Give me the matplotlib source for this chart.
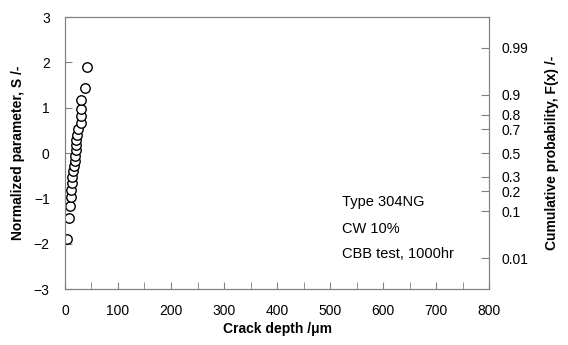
import matplotlib.pyplot as plt
from statistics import NormalDist

plt.rcParams['font.family'] = ['Liberation Sans', 'DejaVu Sans']

# Crack depth (um) and normalized parameter S
depth = [4.4, 8.5, 9.5, 10.5, 11.5, 12.5, 14.0, 15.5, 17.5, 18.5, 19.5,
         20.0, 20.5, 21.0, 22.0, 24.5, 29.6, 30.8, 30.8, 30.8, 38.0, 42.0]
s_value = [-1.90, -1.43, -1.17, -0.97, -0.81, -0.66, -0.53, -0.40, -0.285, -0.17, -0.056,
           0.056, 0.17, 0.285, 0.40, 0.53, 0.66, 0.81, 0.97, 1.17, 1.43, 1.90]

prob_ticks = [0.01, 0.1, 0.2, 0.3, 0.5, 0.7, 0.8, 0.9, 0.99]
prob_labels = ['0.01', '0.1', '0.2', '0.3', '0.5', '0.7', '0.8', '0.9', '0.99']

spine_col = '#808080'

fig = plt.figure(figsize=(5.68, 3.45), dpi=100)
ax = fig.add_axes([0.1144, 0.1623, 0.7466, 0.7884])

ax.plot(depth, s_value, 'o', mfc='white', mec='black', mew=1.0, ms=6.8, ls='none')

ax.set_xlim(0, 800)
ax.set_ylim(-3, 3)
ax.set_xticks(range(0, 801, 100))
ax.set_xticks(range(50, 800, 100), minor=True)
ax.set_yticks(range(-3, 4))
ax.tick_params(axis='both', which='both', direction='in', colors=spine_col,
               labelcolor='black', labelsize=10)
ax.tick_params(axis='x', which='major', length=5, pad=11)
ax.tick_params(axis='x', which='minor', length=5)
ax.tick_params(axis='y', length=5, pad=11)
for sp in ax.spines.values():
    sp.set_color(spine_col)

ax.set_xlabel('Crack depth /\u03bcm', fontsize=10, fontweight='bold', labelpad=3)
ax.set_ylabel('Normalized parameter, S /-', fontsize=10, fontweight='bold', labelpad=6)

# Right axis: cumulative probability on normal scale
ax2 = ax.twinx()
ax2.set_ylim(-3, 3)
nd = NormalDist()
ax2.set_yticks([nd.inv_cdf(p) for p in prob_ticks])
ax2.set_yticklabels(prob_labels)
ax2.tick_params(axis='y', direction='in', length=6, pad=9, colors=spine_col,
                labelcolor='black', labelsize=10)
for sp in ax2.spines.values():
    sp.set_color(spine_col)
ax2.set_ylabel('Cumulative probability, F(x) /-', fontsize=10, fontweight='bold', labelpad=12)

ax.text(522, -1.08, 'Type 304NG', fontsize=10.5, va='center')
ax.text(522, -1.67, 'CW 10%', fontsize=10.5, va='center')
ax.text(522, -2.23, 'CBB test, 1000hr', fontsize=10.5, va='center')

fig.savefig('out.png', dpi=100)
